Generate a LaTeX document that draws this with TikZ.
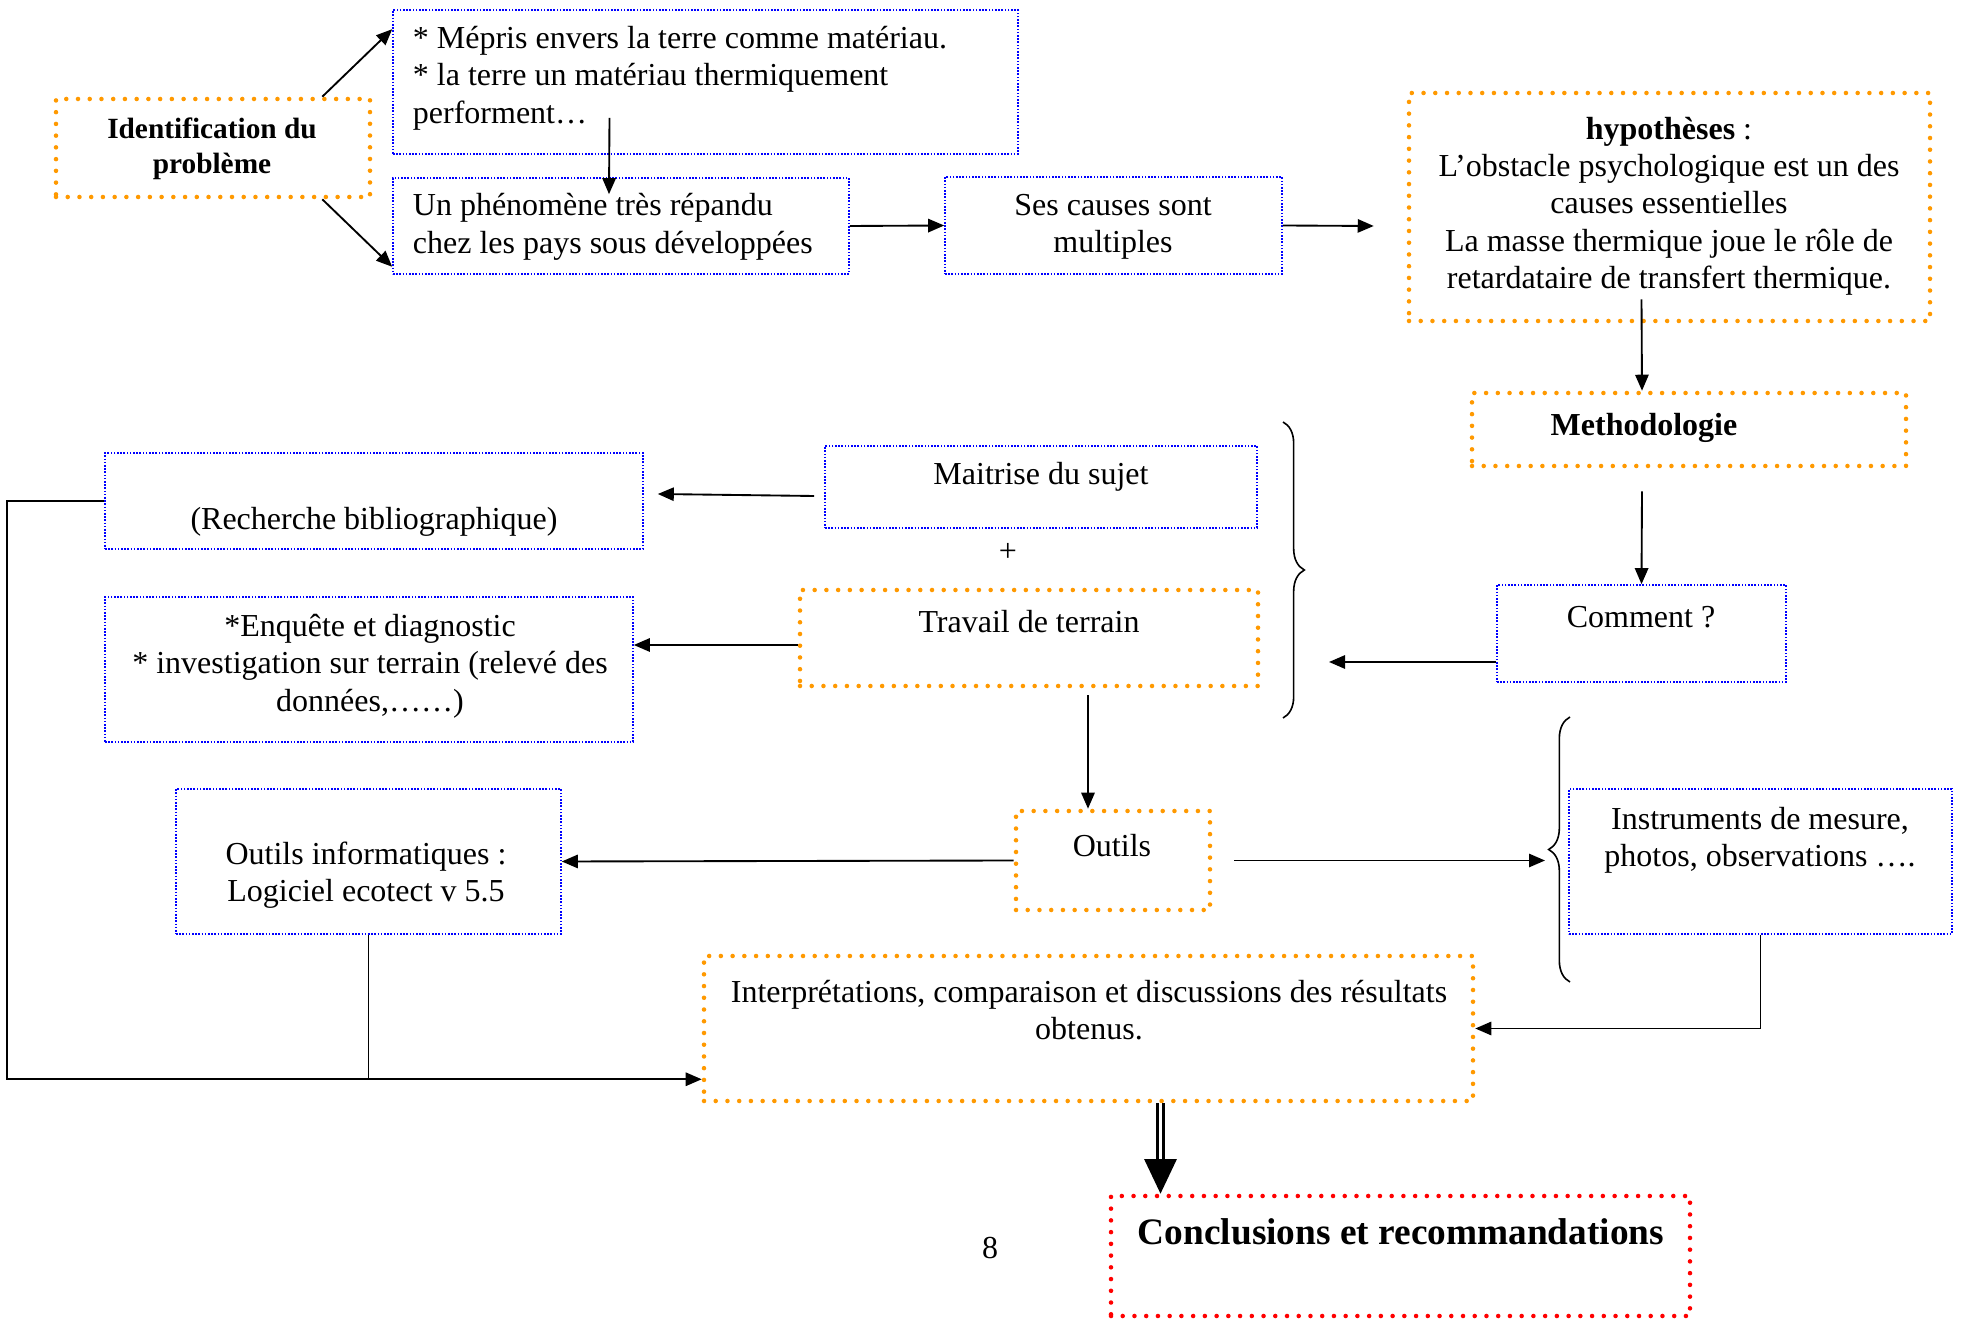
\documentclass[tikz,border=0pt]{standalone}
\usepackage{fontspec}
\setmainfont{Liberation Serif}
\usetikzlibrary{arrows.meta,calc,fit,decorations.pathreplacing}

\definecolor{boxorange}{RGB}{255,153,0}
\definecolor{boxblue}{RGB}{0,0,255}
\definecolor{boxred}{RGB}{255,0,0}

\begin{document}
\begin{tikzpicture}[->, >={Stealth[length=6pt,width=5pt,inset=0pt]}, line width=0.7pt, x=0.375pt, y=-0.375pt,
  bluebox/.style={draw=boxblue, line width=0.6pt, dash pattern=on 0.6pt off 0.6pt, inner sep=0pt},
  orangebox/.style={draw=boxorange, line width=1.7pt, line cap=round, dash pattern=on 0pt off 4.4pt, inner sep=0pt},
  redbox/.style={orangebox, draw=boxred},
  lbl/.style={inner sep=0pt, align=center, font=\fontsize{12}{14}\selectfont},
  bold/.style={lbl, font=\bfseries\fontsize{12}{14}\selectfont},
  brace/.style={-, line width=0.6pt, decorate, decoration={brace, amplitude=8pt}},
  bigarrow/.style={line width=1.2pt, double, double distance=1.2pt, -{Triangle[length=13pt,width=12pt]}}]

\useasboundingbox (0,0) rectangle (1961,1321);

% boxes
\node [orangebox, fit={(56,99) (370,197)}] (ident) {};
\node [bluebox, fit={(393,10) (1018,154)}] (mepris) {};
\node [bluebox, fit={(393,178) (849,274)}] (phen) {};
\node [bluebox, fit={(945,177) (1282,274)}] (ses) {};
\node [orangebox, fit={(1409,93) (1930,321)}] (hyp) {};
\node [orangebox, fit={(1472,393) (1906,466)}] (meth) {};
\node [bluebox, fit={(825,446) (1257,528)}] (maitrise) {};
\node [bluebox, fit={(105,453) (643,549)}] (rech) {};
\node [orangebox, fit={(800,590) (1258,686)}] (travail) {};
\node [bluebox, fit={(105,597) (633,742)}] (enq) {};
\node [bluebox, fit={(1497,585) (1786,682)}] (comment) {};
\node [orangebox, fit={(1016,811) (1210,910)}] (outils) {};
\node [bluebox, fit={(176,789) (561,934)}] (outinfo) {};
\node [bluebox, fit={(1569,789) (1952,934)}] (instr) {};
\node [orangebox, fit={(704,956) (1473,1101)}] (interp) {};
\node [redbox, fit={(1111,1196) (1690,1316)}] (concl) {};

% texts
\node [bold, font=\bfseries\fontsize{11}{13}\selectfont] (identtxt) at (212,149) {Identification du\\problème};
\node [lbl, align=left, anchor=west] (meprtxt) at (412,78) {* Mépris envers la terre comme matériau.\\* la terre un matériau thermiquement\\performent…};
\node [lbl, align=left, anchor=west] (phentxt) at (412,227) {Un phénomène très répandu\\chez les pays sous développées};
\node [lbl] (sestxt) at (1113,227) {Ses causes sont\\multiples};
\node [lbl] (hyptxt) at (1669,206) {\textbf{hypothèses} :\\L’obstacle psychologique est un des\\causes essentielles\\La masse thermique joue le rôle de\\retardataire de transfert thermique.};
\node [bold] (methtxt) at (1644,428) {Methodologie};
\node [lbl] (maittxt) at (1041,477) {Maitrise du sujet};
\node [lbl] (rechtxt) at (374,522) {(Recherche bibliographique)};
\node [lbl] (plus) at (1008,552) {+};
\node [lbl] (travtxt) at (1029,622) {Travail de terrain};
\node [lbl] (enqtxt) at (370,666) {*Enquête et diagnostic\\* investigation sur terrain (relevé des\\données,……)};
\node [lbl] (commtxt) at (1641,617) {Comment ?};
\node [lbl] (outtxt) at (1112,846) {Outils};
\node [lbl] (infotxt) at (366,875) {Outils informatiques :\\Logiciel ecotect v 5.5};
\node [lbl] (instrtxt) at (1760,840) {Instruments de mesure,\\photos, observations ….};
\node [lbl] (interptxt) at (1089,1010) {Interprétations, comparaison et discussions des résultats\\obtenus.};
\node [bold, font=\bfseries\fontsize{14}{16}\selectfont] (concltxt) at (1401,1232) {Conclusions et recommandations};
\node [lbl] (page) at (990,1248) {8};

% braces
\draw [brace] (1283,422) -- (1283,718);
\draw [brace] (1570,982) -- (1570,717);
\coordinate (braceR) at (1329,662);
\coordinate (braceL) at (1545,861);
\coordinate (merge) at ($(interp.south west)+(0,-24)$);

% arrows
\draw ($(ident.north east)+(-50,0)$) -- ($(mepris.north west)+(0,20)$);
\draw ($(ident.south east)+(-50,0)$) -- ($(phen.south west)+(0,-8)$);
\draw ($(mepris.south)+(-96,-37)$) -- ($(phen.north)+(-12,17)$);
\draw (phen.east) -- (ses.west);
\draw (ses.east) -- ($(hyp.west)+(-33,19)$);
\draw ($(hyp.south)+(-28,-24)$) -- ($(meth.north)+(-47,0)$);
\draw ($(meth.south)+(-47,23)$) -- (comment.north);
\draw (comment.west |- braceR) -- (braceR);
\draw ($(maitrise.west)+(-10,9)$) -- ($(rech.east)+(14,-7)$);
\draw ($(travail.west)+(0,7)$) -- ($(enq.east)+(0,-24.5)$);
\draw ($(travail.south)+(59,7)$) -- ($(outils.north)+(-25,0)$);
\draw (outils.west) -- (outinfo.east);
\draw ($(outils.east)+(22,0)$) -- (outils.east -| braceL);
\draw (instr.south) |- (interp.east);
\draw (rech.west) -- ++(-97,0) |- (merge);
\draw [-] (outinfo.south) -- (outinfo.south |- merge);
\draw [bigarrow] ($(interp.south)+(72,0)$) -- ($(concl.north)+(-240,0)$);
\end{tikzpicture}
\end{document}
